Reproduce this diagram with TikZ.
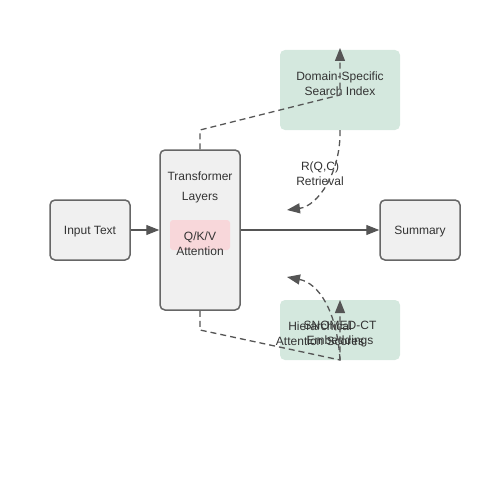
\documentclass[tikz,border=0pt]{standalone}
\usepackage{fontspec}
\setmainfont{Liberation Sans}
\usetikzlibrary{arrows.meta}
\definecolor{boxgray}{HTML}{F0F0F0}
\definecolor{edgegray}{HTML}{666666}
\definecolor{linegray}{HTML}{555555}
\definecolor{txtgray}{HTML}{333333}
\definecolor{idxgreen}{HTML}{D4E8DE}
\definecolor{attpink}{HTML}{F8D7DA}
\tikzset{
	blockbox/.style={draw=edgegray, fill=boxgray, line width=1.5pt, rounded corners=5pt, inner sep=0pt},
	greenbox/.style={fill=idxgreen, rounded corners=5pt, inner sep=0pt, minimum width=120pt},
	lbl/.style={text=txtgray, align=center, inner sep=0pt, font=\fontsize{12}{15}\selectfont},
	flow/.style={draw=linegray, line width=1.3pt, -{Triangle[length=13pt,width=10pt,fill=linegray]}},
	dflow/.style={flow, dash pattern=on 6pt off 4pt}
}

\begin{document}
\begin{tikzpicture}[x=1pt, y=-1pt]
			%%%%% START %%%%%
			\useasboundingbox (0, 0) rectangle (500, 500);
			
			% side boxes
			\node[greenbox, minimum height=80pt] (index) at (340, 90) {};
			\node[greenbox, minimum height=60pt] (embed) at (340, 330) {};
			
			% main blocks
			\node[blockbox, minimum width=80pt, minimum height=60pt] (input) at (90, 230) {};
			\node[blockbox, minimum width=80pt, minimum height=160pt] (trans) at (200, 230) {};
			\node[blockbox, minimum width=80pt, minimum height=60pt] (summary) at (420, 230) {};
			\node[fill=attpink, rounded corners=3pt, minimum width=60pt, minimum height=30pt, inner sep=0pt] (qkv) at (200, 235) {};
			
			% texts
			\node[lbl] (inputtxt) at (90, 232) {Input Text};
			\node[lbl] (summarytxt) at (420, 232) {Summary};
			\node[lbl] (transtxt) at (200, 187.5) {Transformer\\[5pt]Layers};
			\node[lbl] (qkvtxt) at (200, 243.5) {Q/K/V\\Attention};
			\node[lbl] (indextxt) at (340, 83.5) {Domain-Specific\\Search Index};
			\node[lbl] (retrtxt) at (320, 173.5) {R(Q,C)\\Retrieval};
			\node[lbl] (hiertxt) at (320, 334) {Hierarchical\\Attention Scores};
			\node[lbl] (snomedtxt) at (340, 334) {SNOMED-CT\\Embeddings};
			
			% solid flow
			\draw[flow] (input.east) -- (trans.west);
			\draw[flow] (trans.east) -- (summary.west);
			
			% dashed links up
			\coordinate (upknee) at (200, 130);
			\coordinate (upjoin) at (340, 95);
			\coordinate (uptip) at (340, 48);
			\coordinate (retrtip) at (287, 210);
			\draw[dflow] (trans.north) -- (upknee) -- (upjoin) -- (uptip);
			\draw[dflow] (index.south) .. controls (341, 172) and (318, 206) .. (retrtip);
			
			% dashed links down
			\coordinate (dnknee) at (200, 330);
			\coordinate (dnjoin) at (340, 360);
			\coordinate (dntip) at (340, 300);
			\coordinate (hiertip) at (287, 277);
			\draw[dflow] (trans.south) -- (dnknee) -- (dnjoin) -- (dntip);
			\draw[dflow] (dnjoin) .. controls (337, 310) and (318, 283) .. (hiertip);
			
			%%%%% END %%%%%
		\end{tikzpicture}
\end{document}
